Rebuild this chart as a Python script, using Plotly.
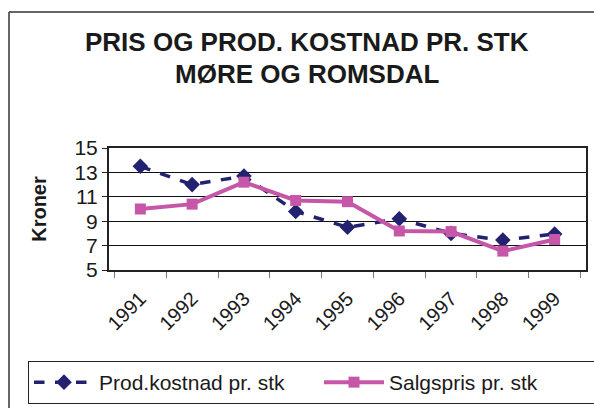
import plotly.graph_objects as go

years = ["1991", "1992", "1993", "1994", "1995", "1996", "1997", "1998", "1999"]
prod_kostnad = [13.5, 12.0, 12.7, 9.8, 8.5, 9.2, 8.0, 7.45, 7.95]
salgspris = [10.0, 10.4, 12.2, 10.7, 10.6, 8.2, 8.15, 6.55, 7.5]

FONT = "Liberation Sans, Arial, sans-serif"
W, H = 594, 408
L, R, T, B = 109, 8, 148, 138
pw = W - L - R
ph = H - T - B

def px(x):
    return (x - L) / pw

def py(y):
    return (H - B - y) / ph

fig = go.Figure()
fig.add_trace(go.Scatter(
    x=years, y=prod_kostnad, name="Prod.kostnad pr. stk",
    mode="lines+markers",
    line=dict(color="#222270", width=3.5, dash="dash"),
    marker=dict(symbol="diamond", size=12, color="#222270"),
))
fig.add_trace(go.Scatter(
    x=years, y=salgspris, name="Salgspris pr. stk",
    mode="lines+markers",
    line=dict(color="#C656A8", width=4),
    marker=dict(symbol="square", size=11, color="#C656A8"),
))

fig.update_layout(
    width=W, height=H,
    margin=dict(l=L, r=R, t=T, b=B, autoexpand=False),
    paper_bgcolor="white", plot_bgcolor="white",
    font=dict(family=FONT, color="#1a1a1a"),
    showlegend=True,
    legend=dict(
        orientation="h", x=px(28), y=py(361), xanchor="left", yanchor="top",
        bordercolor="#222", borderwidth=1, font=dict(size=21, family=FONT),
        itemwidth=60,
        entrywidth=215, entrywidthmode="pixels",
        tracegroupgap=0,
    ),
    xaxis=dict(
        type="category", tickson="boundaries", ticks="outside", ticklen=6,
        tickcolor="#777", tickangle=-45, tickfont=dict(size=20),
        showline=True, linecolor="#222", linewidth=2, mirror=True,
        showgrid=False, zeroline=False,
        ticklabelstandoff=7,
    ),
    yaxis=dict(
        range=[5, 15], tickvals=[5, 7, 9, 11, 13, 15], ticks="outside", ticklen=5,
        tickcolor="#222", tickfont=dict(size=21),
        showline=True, linecolor="#222", linewidth=2, mirror=True,
        showgrid=True, gridcolor="#111", gridwidth=1, zeroline=False,
        title=dict(text="<b>Kroner</b>", font=dict(size=20), standoff=22),
    ),
    annotations=[
        dict(text="<b>PRIS OG PROD. KOSTNAD PR. STK</b>", xref="paper", yref="paper",
             x=px(307), y=py(42), xanchor="center", yanchor="middle",
             showarrow=False, font=dict(size=26, family=FONT, color="#1a1a1a")),
        dict(text="<b>MØRE OG ROMSDAL</b>", xref="paper", yref="paper",
             x=px(307), y=py(74), xanchor="center", yanchor="middle",
             showarrow=False, font=dict(size=26, family=FONT, color="#1a1a1a")),
    ],
    shapes=[
        dict(type="line", xref="paper", yref="paper", x0=px(9), x1=px(600),
             y0=py(12), y1=py(12), line=dict(color="#333", width=1.5)),
        dict(type="line", xref="paper", yref="paper", x0=px(9), x1=px(9),
             y0=py(12), y1=py(410), line=dict(color="#333", width=1.5)),
    ],
)

fig.write_html(
    "out.html",
    config={"displayModeBar": False},
    post_script="document.body.style.margin='0px';document.body.style.overflow='hidden';",
)
